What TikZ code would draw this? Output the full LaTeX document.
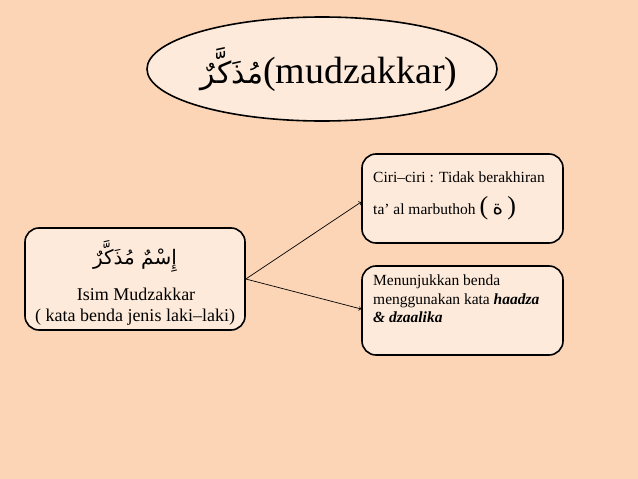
\documentclass[tikz,border=0pt]{standalone}
\usepackage{fontspec}
\setmainfont{Liberation Serif}
\newfontfamily\arabicfont[Script=Arabic]{DejaVu Sans}
\TeXXeTstate=1
\usetikzlibrary{shapes.geometric}
\definecolor{bgpeach}{RGB}{251,213,181}
\definecolor{boxfill}{RGB}{253,234,218}
\tikzset{
  roundbox/.style={draw=black, line width=1.6pt, fill=boxfill, rounded corners=14pt, inner sep=0pt},
  titleoval/.style={ellipse, draw=black, line width=1.6pt, fill=boxfill, inner sep=0pt},
  linktip/.style={-to, line width=0.7pt},
  txt/.style={inner sep=0pt, anchor=base west, font=\fontsize{15.5}{18}\selectfont},
  lefttxt/.style={inner sep=0pt, anchor=base, font=\fontsize{18}{20}\selectfont},
}
\begin{document}
\begin{tikzpicture}[x=1pt,y=-1pt]
\fill[bgpeach] (0,0) rectangle (638,479);
\useasboundingbox (0,0) rectangle (638,479);
% title
\node[titleoval, minimum width=350pt, minimum height=104pt] (title) at (322,69) {};
\node[inner sep=0pt, anchor=base, font=\fontsize{38}{40}\selectfont] (titletext) at (329,83) {{\arabicfont\fontsize{30}{40}\selectfont\beginR مُذَكَّرٌ\endR}(mudzakkar)};
% left box
\node[roundbox, minimum width=220pt, minimum height=102pt] (lbox) at (135,279) {};
\node[inner sep=0pt, anchor=base, font=\arabicfont\fontsize{20}{24}\selectfont] (larab) at (135,264) {\beginR إِسْمٌ مُذَكَّرٌ\endR};
\node[lefttxt] (lname) at (136,300) {Isim Mudzakkar};
\node[lefttxt] (ldesc) at (135,321) {( kata benda jenis laki--laki)};
% right boxes
\node[roundbox, minimum width=201pt, minimum height=89pt] (rbox1) at (462.5,198.5) {};
\node[roundbox, minimum width=201pt, minimum height=89pt] (rbox2) at (462.5,310.5) {};
\node[txt] (r1a) at (373,182) {Ciri--ciri : Tidak berakhiran};
\node[txt] (r1b) at (373,214) {ta’ al marbuthoh {\fontsize{26}{28}\selectfont(\,{\arabicfont\fontsize{20}{24}\selectfont ة}\,)}};
\node[txt] (r2a) at (373,285) {Menunjukkan benda};
\node[txt] (r2b) at (373,304) {menggunakan kata \textbf{\textit{haadza}}};
\node[txt] (r2c) at (373,322) {\textbf{\textit{\& dzaalika}}};
% connectors
\draw[linktip] (lbox.east) -- ([yshift=-3.5pt]rbox1.west);
\draw[linktip] (lbox.east) -- ([yshift=1.5pt]rbox2.west);
\end{tikzpicture}
\end{document}
